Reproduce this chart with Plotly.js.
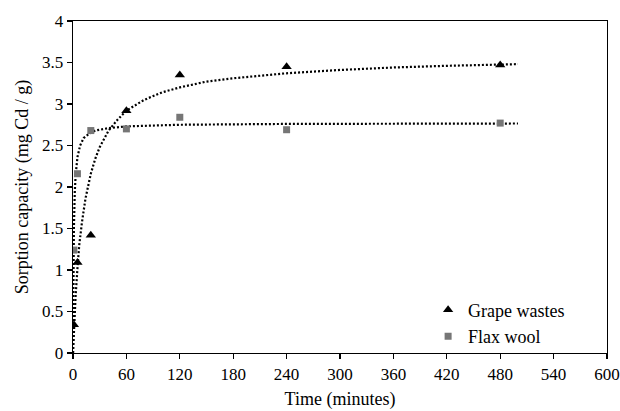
<!DOCTYPE html>
<html>
<head>
<meta charset="utf-8">
<script src="https://cdn.plot.ly/plotly-3.0.1.min.js"></script>
<style>html,body{margin:0;padding:0;background:#fff;}#chart{width:620px;height:411px;}</style>
</head>
<body>
<div id="chart"></div>
<script>
// Measured data
var times = [1, 5, 20, 60, 120, 240, 480];
var grapeWastes = [0.34, 1.09, 1.42, 2.92, 3.35, 3.45, 3.47];
var flaxWool = [1.24, 2.16, 2.68, 2.70, 2.84, 2.69, 2.77];

// Trend lines
var grapeFitT = [0, 1, 2, 3, 5, 7, 10, 14, 20, 25, 30, 40, 50, 60, 80, 100, 120, 150, 180, 240, 300, 360, 420, 500];
var grapeFitY = [0, 0.27, 0.5, 0.7, 1.02, 1.3, 1.57, 1.86, 2.16, 2.34, 2.48, 2.68, 2.81, 2.92, 3.05, 3.14, 3.20, 3.27, 3.31, 3.37, 3.41, 3.44, 3.46, 3.48];
var flaxFitT = [0, 0.5, 1, 2, 3, 5, 8, 12, 18, 25, 40, 60, 120, 240, 500];
var flaxFitY = [0, 1.0, 1.5, 1.94, 2.15, 2.36, 2.5, 2.59, 2.64, 2.68, 2.71, 2.73, 2.75, 2.76, 2.765];

var xTickVals = [0, 60, 120, 180, 240, 300, 360, 420, 480, 540, 600];
var yTickVals = [0, 0.5, 1, 1.5, 2, 2.5, 3, 3.5, 4];

var fontFam = '"Liberation Serif", "Times New Roman", serif';
var dotLine = {color: '#000', width: 2.2, dash: '2px,2px'};

var traces = [
  {x: grapeFitT, y: grapeFitY, mode: 'lines', line: dotLine, showlegend: false, hoverinfo: 'skip'},
  {x: flaxFitT, y: flaxFitY, mode: 'lines', line: dotLine, showlegend: false, hoverinfo: 'skip'},
  {x: times, y: grapeWastes, mode: 'markers', name: 'Grape wastes',
   marker: {symbol: 'triangle-up', size: 9, color: '#000'}},
  {x: times, y: flaxWool, mode: 'markers', name: 'Flax wool',
   marker: {symbol: 'square', size: 7, color: '#767676'}}
];

var axisCommon = {
  showline: true, linecolor: '#000', linewidth: 1.3, mirror: true,
  showgrid: false, zeroline: false,
  ticks: 'outside', ticklen: 5, tickwidth: 1.3, tickcolor: '#000',
  tickfont: {family: fontFam, size: 17, color: '#000'}
};

var layout = {
  width: 620, height: 411,
  margin: {l: 73, r: 13, t: 21, b: 58},
  paper_bgcolor: '#fff', plot_bgcolor: '#fff',
  font: {family: fontFam, color: '#000'},
  xaxis: Object.assign({}, axisCommon, {
    range: [0, 600], tickvals: xTickVals, ticktext: xTickVals.map(String),
    title: {text: 'Time (minutes)', font: {family: fontFam, size: 18, color: '#000'}, standoff: 9}
  }),
  yaxis: Object.assign({}, axisCommon, {
    range: [0, 4], tickvals: yTickVals, ticktext: yTickVals.map(String),
    title: {text: 'Sorption capacity (mg Cd / g)', font: {family: fontFam, size: 18, color: '#000'}, standoff: 8}
  }),
  showlegend: true,
  legend: {
    x: 0.665, y: 0.185, xanchor: 'left', yanchor: 'top',
    bgcolor: 'rgba(0,0,0,0)', borderwidth: 0,
    font: {family: fontFam, size: 18, color: '#000'},
    itemwidth: 30, tracegroupgap: 0
  }
};

Plotly.newPlot('chart', traces, layout, {displayModeBar: false, staticPlot: true});
</script>
</body>
</html>
